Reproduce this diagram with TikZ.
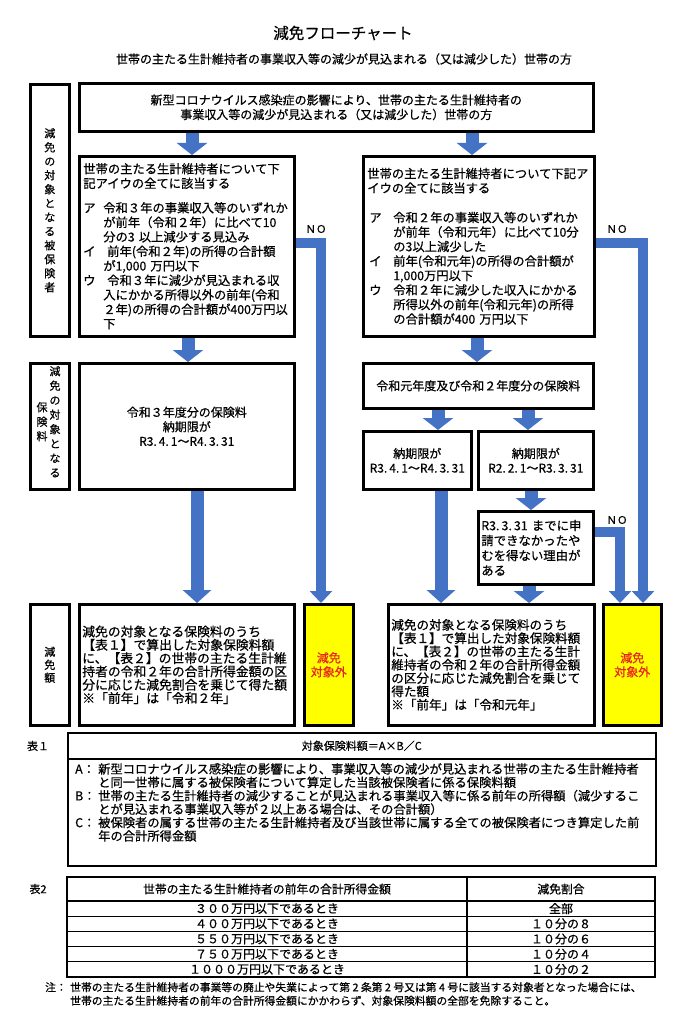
\documentclass[tikz,border=0pt]{standalone}
\usepackage{fontspec}
\setmainfont{Noto Sans CJK JP}[FakeBold=0.6]
\usetikzlibrary{arrows.meta}
\definecolor{ablue}{HTML}{4472C4}
\definecolor{yel}{HTML}{FFFF00}
\definecolor{redt}{HTML}{E8251B}
\newcommand{\myfs}[2]{\fontsize{#1}{#2}\selectfont}
\newcommand{\itmL}[1]{\makebox[20pt][l]{#1}}
\newcommand{\indL}{\hspace*{20pt}}
\newcommand{\itmR}[1]{\hspace*{2pt}\makebox[24pt][l]{#1}}
\newcommand{\indR}{\hspace*{26pt}}
\newcommand{\itmT}[1]{\hspace*{8pt}\makebox[23pt][l]{#1}}
\newcommand{\indT}{\hspace*{31pt}}
\begin{document}
\begin{tikzpicture}[x=1pt,y=-1pt,
  box/.style={draw=black, line width=2.6pt, anchor=north west, inner sep=0pt, font=\myfs{12}{14.5}},
  tbox/.style={draw=black, line width=1.6pt, anchor=north west, inner sep=0pt, font=\myfs{11}{13}},
  vtext/.style={font=\myfs{11}{14}, align=center, inner sep=0pt},
  sarrow/.style={color=ablue, line width=13pt, -{Triangle[width=30pt,length=12pt]}},
  larrow/.style={color=ablue, line width=13pt, -{Triangle[width=28pt,length=13pt]}},
  noarrow/.style={color=ablue, line width=9.5pt, line join=miter, -{Triangle[width=22pt,length=12pt]}},
  nolab/.style={font=\myfs{10.5}{12}, inner sep=0pt},
  ybox/.style={box, fill=yel, text=redt, align=center, font=\myfs{12}{14}},
  cell/.style={inner sep=0pt, font=\myfs{12}{14}},
]
\useasboundingbox (0,0) rectangle (686,1024);
\fill[white] (0,0) rectangle (686,1024);

% titles
\node[font=\myfs{15.5}{18}] (title) at (343,33) {減免フローチャート};
\node[font=\myfs{12}{14}] (subtitle) at (344,59) {世帯の主たる生計維持者の事業収入等の減少が見込まれる（又は減少した）世帯の方};

% left labels
\node[box, minimum width=39pt, minimum height=252pt] (lab1) at (29,83) {};
\node[vtext] (lab1t) at (lab1.center) {減\\免\\の\\対\\象\\と\\な\\る\\被\\保\\険\\者};
\node[box, minimum width=39pt, minimum height=126pt] (lab2) at (29,362) {};
\node[vtext, anchor=north, font=\myfs{11}{14.5}] (lab2a) at (55,366) {減\\免\\の\\対\\象\\と\\な\\る};
\node[vtext, anchor=north, font=\myfs{11}{14.5}] (lab2b) at (42,402) {保\\険\\料};
\node[box, minimum width=39pt, minimum height=121pt] (lab3) at (29,603) {};
\node[vtext, font=\myfs{11}{13}] (lab3t) at (lab3.center) {減\\免\\額};

% top box
\node[box, minimum width=514pt, minimum height=48pt, align=center] (top) at (78,82)
 {新型コロナウイルス感染症の影響により、世帯の主たる生計維持者の\\事業収入等の減少が見込まれる（又は減少した）世帯の方};

% criteria boxes
\node[box, minimum width=215pt, minimum height=180pt, text width=207pt, inner xsep=4pt, align=left, font=\myfs{12.3}{14.5}] (critL) at (78,155)
 {世帯の主たる生計維持者について下\\
  記アイウの全てに該当する\\[10pt]
  \itmL{ア}令和３年の事業収入等のいずれか\\
  \indL が前年（令和２年）に比べて10\\
  \indL 分の3 以上減少する見込み\\
  \itmL{イ}\hspace*{4pt}前年(令和２年)の所得の合計額\\
  \indL が1,000 万円以下\\
  \itmL{ウ}\hspace*{4pt}令和３年に減少が見込まれる収\\
  \indL 入にかかる所得以外の前年(令和\\
  \indL ２年)の所得の合計額が400万円以\\
  \indL 下};
\node[box, minimum width=231pt, minimum height=180pt, text width=223pt, inner xsep=4pt, align=left, font=\myfs{12.3}{14.5}] (critR) at (362,155)
 {世帯の主たる生計維持者について下記ア\\
  イウの全てに該当する\\[15pt]
  \itmR{ア}令和２年の事業収入等のいずれか\\
  \indR が前年（令和元年）に比べて10分\\
  \indR の3以上減少した\\
  \itmR{イ}前年(令和元年)の所得の合計額が\\
  \indR 1,000万円以下\\
  \itmR{ウ}令和２年に減少した収入にかかる\\
  \indR 所得以外の前年(令和元年)の所得\\
  \indR の合計額が400 万円以下};

% premium boxes
\node[box, minimum width=215pt, minimum height=126pt, align=center] (premL) at (78,362)
 {令和３年度分の保険料\\納期限が\\R3.\,4.\,1～R4.\,3.\,31};
\node[box, minimum width=230pt, minimum height=45pt] (premR) at (362,362)
 {令和元年度及び令和２年度分の保険料};
\node[box, minimum width=108pt, minimum height=58pt, align=center] (dueA) at (362,430)
 {納期限が\\R3.\,4.\,1～R4.\,3.\,31};
\node[box, minimum width=115pt, minimum height=58pt, align=center] (dueB) at (477,430)
 {納期限が\\R2.\,2.\,1～R3.\,3.\,31};
\node[box, minimum width=115pt, minimum height=73pt, text width=109pt, inner xsep=3pt, align=left, font=\myfs{12.4}{15}] (reason) at (477,510)
 {R3.\,3.\,31 までに申\\請できなかったや\\むを得ない理由が\\ある};

% result boxes
\node[box, minimum width=215pt, minimum height=121pt, text width=209pt, inner xsep=3pt, align=left, font=\myfs{12.8}{13.3}] (resL) at (78,603)
 {減免の対象となる保険料のうち\\
  【表１】で算出した対象保険料額\\
  に、【表２】の世帯の主たる生計維\\
  持者の令和２年の合計所得金額の区\\
  分に応じた減免割合を乗じて得た額\\
  ※「前年」は「令和２年」};
\node[ybox, minimum width=49pt, minimum height=121pt] (noL) at (303,603) {減免\\対象外};
\node[box, minimum width=206pt, minimum height=121pt, text width=200pt, inner xsep=3pt, align=left, font=\myfs{12.6}{13.3}] (resR) at (387,603)
 {減免の対象となる保険料のうち\\
  【表１】で算出した対象保険料額\\
  に、【表２】の世帯の主たる生計\\
  維持者の令和２年の合計所得金額\\
  の区分に応じた減免割合を乗じて\\
  得た額\\
  ※「前年」は「令和元年」};
\node[ybox, minimum width=58pt, minimum height=121pt] (noR) at (602,603) {減免\\対象外};

% arrow x/y positions
\coordinate (xa1) at (192,0);
\coordinate (xa2) at (472,0);
\coordinate (xa3) at (188,0);
\coordinate (xa4) at (477,0);
\coordinate (xa5) at (438,0);
\coordinate (xa6) at (528,0);
\coordinate (xa7) at (197,0);
\coordinate (xa8) at (441,0);
\coordinate (xa9) at (531,0);
\coordinate (xa10) at (529,0);
\coordinate (xn1) at (321,0);
\coordinate (xn2) at (643,0);
\coordinate (xn3) at (620,0);
\coordinate (yn1) at (0,243);
\coordinate (yn3) at (0,532);

\draw[sarrow] (top.south -| xa1) -- (critL.north -| xa1);
\draw[sarrow] (top.south -| xa2) -- (critR.north -| xa2);
\draw[sarrow] (critL.south -| xa3) -- (premL.north -| xa3);
\draw[sarrow] (critR.south -| xa4) -- (premR.north -| xa4);
\draw[sarrow] (premR.south -| xa5) -- (dueA.north -| xa5);
\draw[sarrow] (premR.south -| xa6) -- (dueB.north -| xa6);
\draw[larrow] (premL.south -| xa7) -- (resL.north -| xa7);
\draw[larrow] (dueA.south -| xa8) -- (resR.north -| xa8);
\draw[sarrow] (dueB.south -| xa9) -- (reason.north -| xa9);
\draw[sarrow] (reason.south -| xa10) -- (resR.north -| xa10);
\draw[noarrow] (critL.east |- yn1) -| (noL.north -| xn1);
\draw[noarrow] (critR.east |- yn1) -| (noR.north -| xn2);
\draw[noarrow] (reason.east |- yn3) -| (noR.north -| xn3);

\node[nolab] (no1) at (316,229) {ＮＯ};
\node[nolab] (no2) at (617,229) {ＮＯ};
\node[nolab] (no3) at (617,520) {ＮＯ};

% table 1
\node[font=\myfs{11}{13}] (t1lab) at (38,746) {表１};
\node[tbox, minimum width=588pt, minimum height=26pt] (t1h) at (67,732) {対象保険料額＝A×B／C};
\node[tbox, minimum width=588pt, minimum height=107pt] (t1b) at (67,758) {};
\node[anchor=north west, align=left, inner sep=0pt, font=\myfs{12.3}{13.4}] (t1txt) at (67,763)
 {\itmT{A：}新型コロナウイルス感染症の影響により、事業収入等の減少が見込まれる世帯の主たる生計維持者\\
  \indT と同一世帯に属する被保険者について算定した当該被保険者に係る保険料額\\
  \itmT{B：}世帯の主たる生計維持者の減少することが見込まれる事業収入等に係る前年の所得額（減少するこ\\
  \indT とが見込まれる事業収入等が２以上ある場合は、その合計額）\\
  \itmT{C：}被保険者の属する世帯の主たる生計維持者及び当該世帯に属する全ての被保険者につき算定した前\\
  \indT 年の合計所得金額};

% table 2
\node[font=\myfs{11}{13}] (t2lab) at (38,889) {表2};
\draw[line width=1.8pt] (67,877) rectangle (655,977);
\draw[line width=1.2pt] (467,877) -- (467,977);
\draw[line width=1.4pt] (67,901) -- (655,901);
\foreach \yy in {916.2,931.4,946.6,961.8} \draw[line width=1.1pt] (67,\yy) -- (655,\yy);
\node[cell, font=\myfs{11.8}{13}] (h1) at (267,889) {世帯の主たる生計維持者の前年の合計所得金額};
\node[cell, font=\myfs{11.8}{13}] (h2) at (561,889) {減免割合};
\node[cell] (r1a) at (267,908.6) {３００万円以下であるとき};
\node[cell] (r1b) at (561,908.6) {全部};
\node[cell] (r2a) at (267,923.8) {４００万円以下であるとき};
\node[cell] (r2b) at (561,923.8) {１０分の８};
\node[cell] (r3a) at (267,939) {５５０万円以下であるとき};
\node[cell] (r3b) at (561,939) {１０分の６};
\node[cell] (r4a) at (267,954.2) {７５０万円以下であるとき};
\node[cell] (r4b) at (561,954.2) {１０分の４};
\node[cell] (r5a) at (267,969.4) {１０００万円以下であるとき};
\node[cell] (r5b) at (561,969.4) {１０分の２};

% note
\node[anchor=north west, align=left, inner sep=0pt, font=\myfs{10.8}{13.5}] (note) at (45,982)
 {\makebox[25pt][l]{注：}世帯の主たる生計維持者の事業等の廃止や失業によって第 2 条第 2 号又は第 4 号に該当する対象者となった場合には、\\
  \hspace*{25pt}世帯の主たる生計維持者の前年の合計所得金額にかかわらず、対象保険料額の全部を免除すること。};
\end{tikzpicture}
\end{document}
